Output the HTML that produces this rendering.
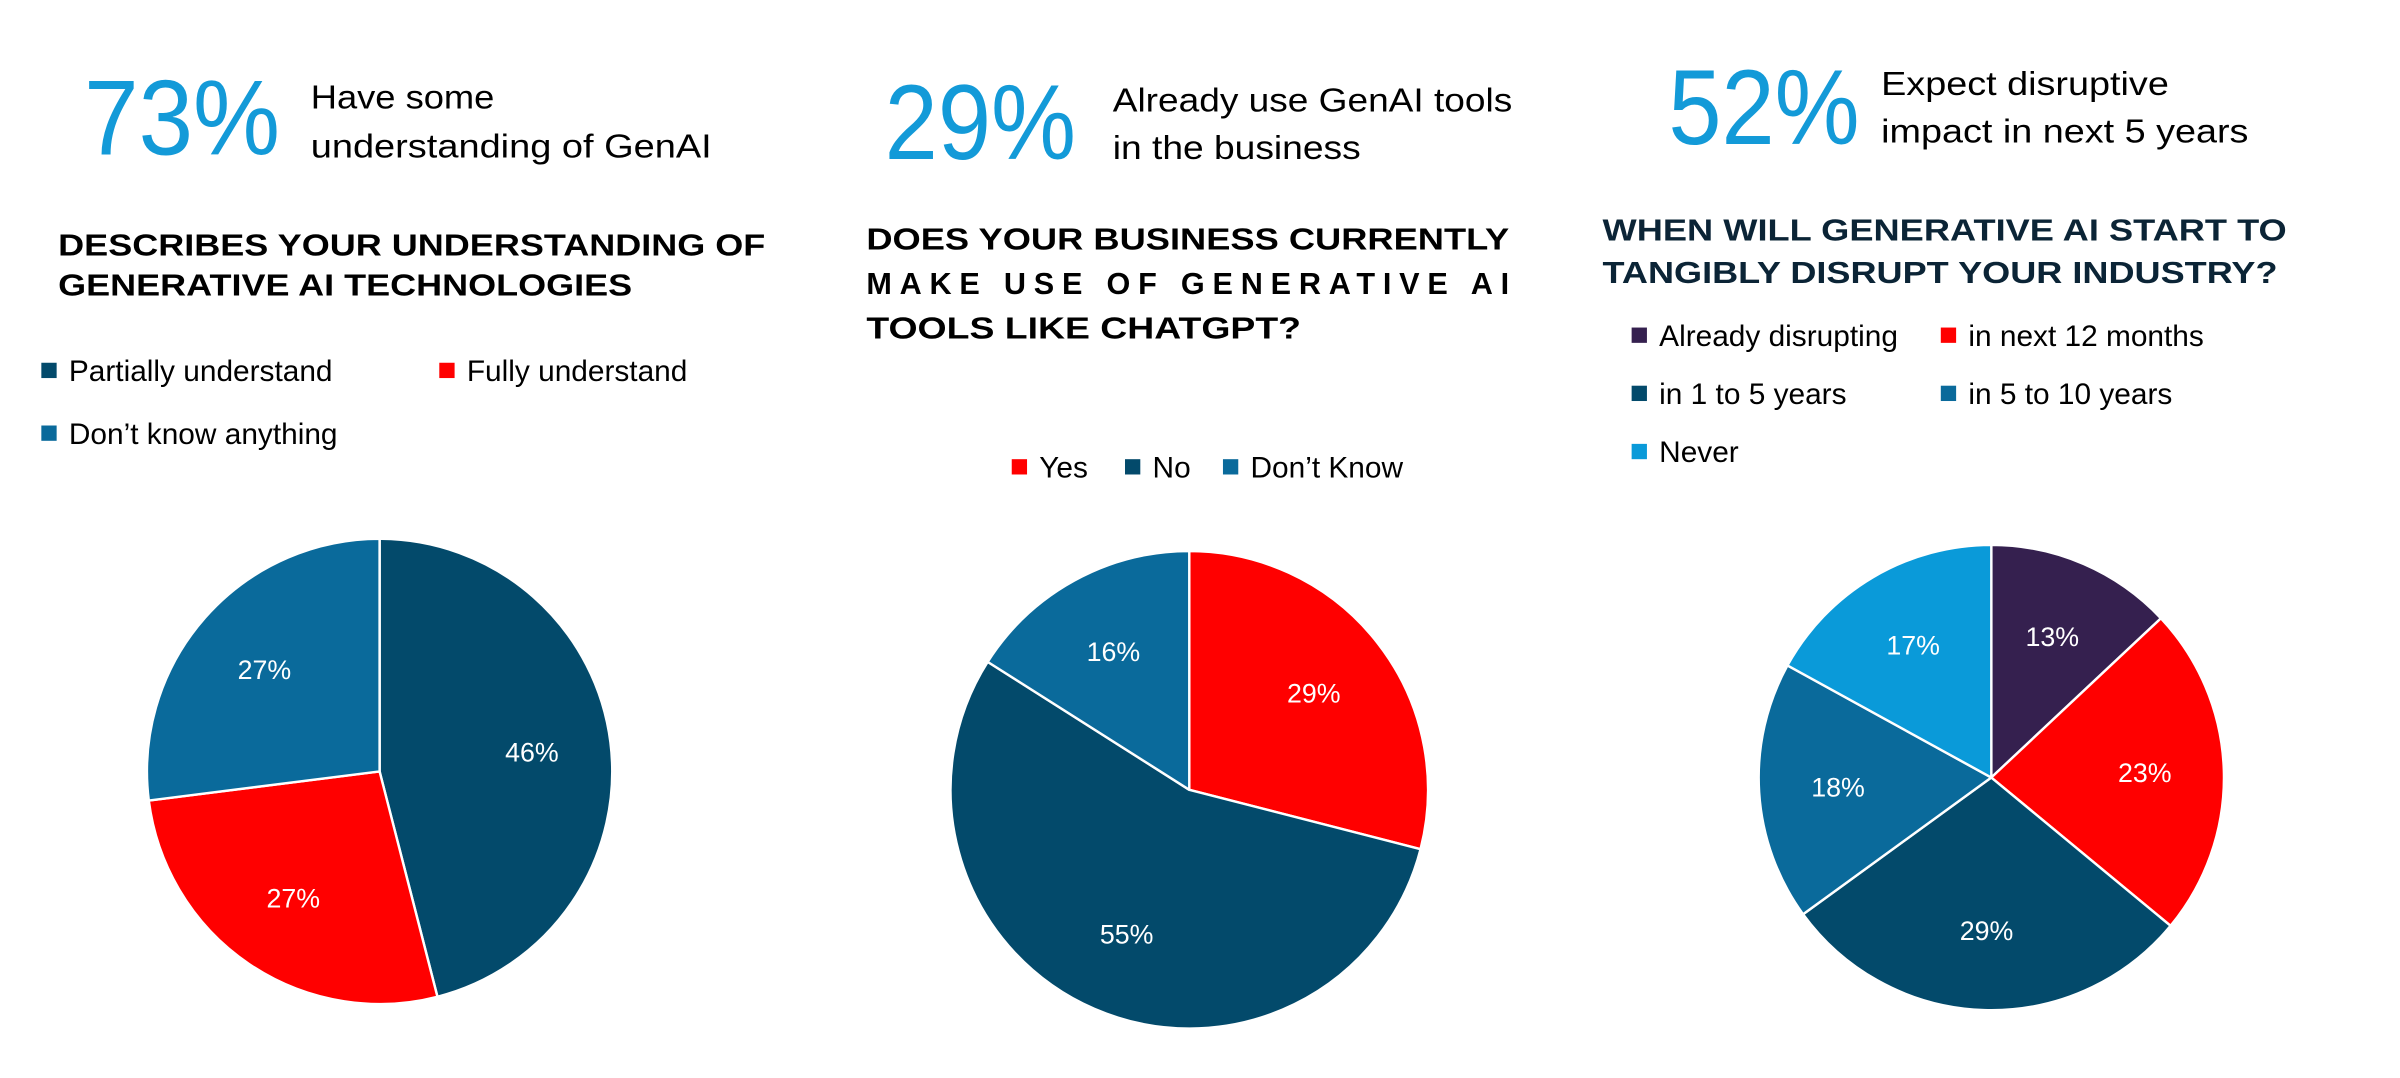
<!DOCTYPE html>
<html><head><meta charset="utf-8"><style>
html,body{margin:0;padding:0;background:#fff}
svg{display:block}
text{font-family:"Liberation Sans",sans-serif}
</style></head><body>
<svg id="root" width="2400" height="1078" viewBox="0 0 1568 704.3" xmlns="http://www.w3.org/2000/svg">
<rect width="1568" height="704.3" fill="#fff"/>
<!-- Panel 1 -->
<g>
<text x="55" y="101" font-size="70" fill="#139ad8" textLength="128" lengthAdjust="spacingAndGlyphs">73%</text>
<text x="203" y="71" font-size="22" fill="#000" textLength="120" lengthAdjust="spacingAndGlyphs">Have some</text>
<text x="203" y="103" font-size="22" fill="#000" textLength="262" lengthAdjust="spacingAndGlyphs">understanding of GenAI</text>
<text x="38" y="167" font-size="20" font-weight="bold" fill="#000" textLength="462" lengthAdjust="spacingAndGlyphs">DESCRIBES YOUR UNDERSTANDING OF</text>
<text x="38" y="193" font-size="20" font-weight="bold" fill="#000" textLength="375" lengthAdjust="spacingAndGlyphs">GENERATIVE AI TECHNOLOGIES</text>
<g id="legend1"></g>
<g id="pie1"></g>
</g>
<!-- Panel 2 -->
<g>
<text x="578" y="104" font-size="70" fill="#139ad8" textLength="125" lengthAdjust="spacingAndGlyphs">29%</text>
<text x="727" y="73" font-size="22" fill="#000" textLength="261" lengthAdjust="spacingAndGlyphs">Already use GenAI tools</text>
<text x="727" y="104" font-size="22" fill="#000" textLength="162" lengthAdjust="spacingAndGlyphs">in the business</text>
<text x="566" y="163" font-size="20" font-weight="bold" fill="#000" textLength="420" lengthAdjust="spacingAndGlyphs">DOES YOUR BUSINESS CURRENTLY</text>
<text x="566" y="192" font-size="20" font-weight="bold" fill="#000" textLength="420" lengthAdjust="spacing">MAKE USE OF GENERATIVE AI</text>
<text x="566" y="221" font-size="20" font-weight="bold" fill="#000" textLength="284" lengthAdjust="spacingAndGlyphs">TOOLS LIKE CHATGPT?</text>
<g id="legend2"></g>
<g id="pie2"></g>
</g>
<!-- Panel 3 -->
<g>
<text x="1090" y="94" font-size="70" fill="#139ad8" textLength="125" lengthAdjust="spacingAndGlyphs">52%</text>
<text x="1229" y="62" font-size="22" fill="#000" textLength="188" lengthAdjust="spacingAndGlyphs">Expect disruptive</text>
<text x="1229" y="93" font-size="22" fill="#000" textLength="240" lengthAdjust="spacingAndGlyphs">impact in next 5 years</text>
<text x="1047" y="157" font-size="20" font-weight="bold" fill="#0b2436" textLength="447" lengthAdjust="spacingAndGlyphs">WHEN WILL GENERATIVE AI START TO</text>
<text x="1047" y="185" font-size="20" font-weight="bold" fill="#0b2436" textLength="441" lengthAdjust="spacingAndGlyphs">TANGIBLY DISRUPT YOUR INDUSTRY?</text>
<g id="legend3"></g>
<g id="pie3"></g>
</g>
</svg>
<script>
// Chart 1 data
const cats1 = ["Partially understand", "Fully understand", "Don\u2019t know anything"];
const vals1 = [46, 27, 27];
// Chart 2 data
const cats2 = ["Yes", "No", "Don\u2019t Know"];
const vals2 = [29, 55, 16];
// Chart 3 data
const cats3 = ["Already disrupting", "in next 12 months", "in 1 to 5 years", "in 5 to 10 years", "Never"];
const vals3 = [13, 23, 29, 18, 17];

const NS = "http://www.w3.org/2000/svg";
function mk(tag, attrs, parent) {
  const e = document.createElementNS(NS, tag);
  for (const k in attrs) e.setAttribute(k, attrs[k]);
  parent.appendChild(e);
  return e;
}
function slug(s) { return s.toLowerCase().replace(/[^a-z0-9]+/g, "-").replace(/^-|-$/g, ""); }

function drawPie(gid, cats, vals, colors, cx, cy, r) {
  const g = document.getElementById(gid);
  const total = vals.reduce((a, b) => a + b, 0);
  let a0 = 0;
  const pt = (a, rr) => [cx + rr * Math.sin(a), cy - rr * Math.cos(a)];
  vals.forEach((v, i) => {
    const a1 = a0 + v / total * Math.PI * 2;
    const p0 = pt(a0, r), p1 = pt(a1, r);
    const large = (a1 - a0) > Math.PI ? 1 : 0;
    const p = mk("path", {
      d: `M${cx},${cy} L${p0[0]},${p0[1]} A${r},${r} 0 ${large} 1 ${p1[0]},${p1[1]} Z`,
      fill: colors[i], stroke: "#fff", "stroke-width": 1.6, "stroke-linejoin": "round"
    }, g);
    
    
    const m = (a0 + a1) / 2;
    const lp = pt(m, r * 0.66);
    const t = mk("text", { x: lp[0], y: lp[1] + 6, "font-size": 17.5, fill: "#fff", "text-anchor": "middle" }, g);
    t.textContent = Math.round(v / total * 100) + "%";
    
    
    a0 = a1;
  });
}

function drawLegend(gid, cats, colors, pos) {
  const g = document.getElementById(gid);
  cats.forEach((c, i) => {
    const [x, y] = pos[i];
    const it = mk("g", {}, g);
    
    
    mk("rect", { x: x, y: y - 12, width: 10, height: 10, fill: colors[i] }, it);
    const t = mk("text", { x: x + 18, y: y, "font-size": 19.5, fill: "#000" }, it);
    t.textContent = c;
  });
}

const dark = "#034a6b", red = "#ff0000", mid = "#0a6a9b", purple = "#35204f", light = "#0a9ad9";
drawPie("pie1", cats1, vals1, [dark, red, mid], 248, 504, 152);
drawLegend("legend1", cats1, [dark, red, mid], [[27, 249], [287, 249], [27, 290]]);
drawPie("pie2", cats2, vals2, [red, dark, mid], 777, 516, 156);
drawLegend("legend2", cats2, [red, dark, mid], [[661, 312], [735, 312], [799, 312]]);
drawPie("pie3", cats3, vals3, [purple, red, dark, mid, light], 1301, 508, 152);
drawLegend("legend3", cats3, [purple, red, dark, mid, light], [[1066, 226], [1268, 226], [1066, 264], [1268, 264], [1066, 302]]);
</script>
</body></html>
